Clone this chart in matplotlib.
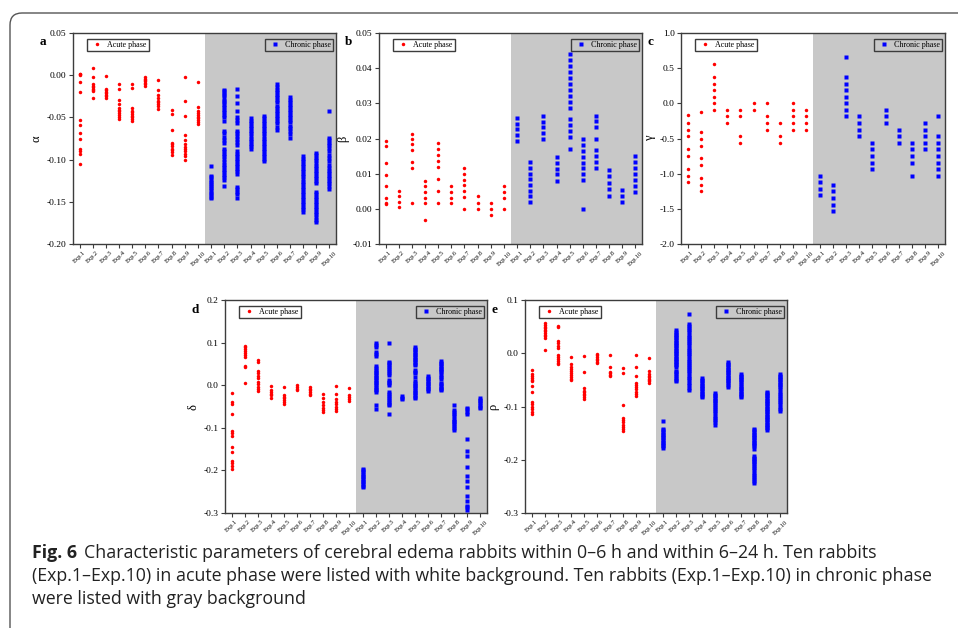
import matplotlib
matplotlib.use("Agg")
import matplotlib.pyplot as plt
from matplotlib.patches import FancyBboxPatch
from matplotlib.transforms import Affine2D
from matplotlib.ticker import MultipleLocator, FormatStrFormatter

plt.rcParams["axes.unicode_minus"] = False
plt.rcParams["font.family"] = "Liberation Serif"

W, H = 958, 628

exp_labels = ["Exp.1", "Exp.2", "Exp.3", "Exp.4", "Exp.5",
              "Exp.6", "Exp.7", "Exp.8", "Exp.9", "Exp.10"]

# ---- alpha ----
alpha_acute = [
    [0.002, 0.001, 0.000, -0.008, -0.020, -0.053, -0.059, -0.069, -0.076, -0.088, -0.090, -0.093, -0.105],
    [0.009, -0.002, -0.011, -0.013, -0.014, -0.016, -0.017, -0.019, -0.027],
    [-0.001, -0.016, -0.018, -0.020, -0.021, -0.023, -0.025, -0.027],
    [-0.010, -0.016, -0.029, -0.034, -0.039, -0.041, -0.043, -0.045, -0.047, -0.049, -0.052],
    [-0.010, -0.015, -0.039, -0.042, -0.044, -0.046, -0.048, -0.050, -0.052, -0.054],
    [-0.002, -0.004, -0.006, -0.007, -0.009, -0.011, -0.013],
    [-0.006, -0.017, -0.024, -0.027, -0.030, -0.032, -0.034, -0.037, -0.040],
    [-0.041, -0.046, -0.065, -0.080, -0.082, -0.084, -0.087, -0.089, -0.091, -0.094],
    [-0.002, -0.031, -0.048, -0.071, -0.077, -0.082, -0.085, -0.087, -0.090, -0.093, -0.096, -0.100],
    [-0.008, -0.038, -0.043, -0.045, -0.047, -0.049, -0.051, -0.053, -0.055, -0.058],
]
alpha_chronic = [
    [-0.108, -0.119, -0.121, -0.124, -0.126, -0.129, -0.131, -0.134, -0.136, -0.139, -0.141, -0.144, -0.146],
    [-0.017, -0.019, -0.022, -0.024, -0.027, -0.030, -0.032, -0.035, -0.038, -0.041, -0.044, -0.047, -0.050,
     -0.054, -0.066, -0.069, -0.073, -0.077, -0.080, -0.087, -0.090, -0.093, -0.096, -0.099, -0.103, -0.106,
     -0.109, -0.112, -0.115, -0.118, -0.121, -0.124, -0.131],
    [-0.016, -0.025, -0.033, -0.043, -0.050, -0.053, -0.057, -0.066, -0.069, -0.072, -0.076, -0.079, -0.083,
     -0.090, -0.093, -0.096, -0.099, -0.102, -0.105, -0.108, -0.111, -0.114, -0.117, -0.132, -0.135, -0.138,
     -0.141, -0.145],
    [-0.051, -0.054, -0.057, -0.060, -0.063, -0.066, -0.069, -0.072, -0.075, -0.078, -0.081, -0.084, -0.087],
    [-0.048, -0.051, -0.054, -0.057, -0.060, -0.063, -0.066, -0.069, -0.072, -0.075, -0.078, -0.081, -0.084,
     -0.087, -0.090, -0.093, -0.096, -0.099, -0.102],
    [-0.011, -0.014, -0.017, -0.020, -0.023, -0.026, -0.029, -0.032, -0.036, -0.039, -0.042, -0.045, -0.048,
     -0.051, -0.054, -0.057, -0.061, -0.065],
    [-0.026, -0.029, -0.032, -0.035, -0.038, -0.041, -0.044, -0.047, -0.050, -0.053, -0.056, -0.060, -0.063,
     -0.066, -0.070, -0.074],
    [-0.096, -0.099, -0.102, -0.105, -0.108, -0.111, -0.114, -0.117, -0.120, -0.123, -0.126, -0.129, -0.132,
     -0.135, -0.138, -0.141, -0.144, -0.147, -0.150, -0.153, -0.156, -0.159, -0.162],
    [-0.092, -0.095, -0.098, -0.101, -0.104, -0.107, -0.110, -0.113, -0.116, -0.119, -0.122, -0.125, -0.128,
     -0.138, -0.141, -0.144, -0.147, -0.150, -0.153, -0.156, -0.159, -0.162, -0.165, -0.168, -0.171, -0.174],
    [-0.043, -0.074, -0.077, -0.080, -0.083, -0.086, -0.090, -0.094, -0.098, -0.102, -0.106, -0.110, -0.113,
     -0.116, -0.119, -0.122, -0.125, -0.128, -0.131, -0.135],
]

# ---- beta ----
beta_acute = [
    [0.0193, 0.0178, 0.0129, 0.0097, 0.0065, 0.0032, 0.0017, 0.0013],
    [0.0052, 0.0037, 0.0020, 0.0004],
    [0.0214, 0.0199, 0.0183, 0.0166, 0.0133, 0.0116, 0.0017],
    [0.0080, 0.0065, 0.0048, 0.0032, 0.0017, -0.0032],
    [0.0187, 0.0170, 0.0152, 0.0135, 0.0118, 0.0085, 0.0051, 0.0017],
    [0.0065, 0.0048, 0.0032, 0.0017],
    [0.0116, 0.0099, 0.0083, 0.0067, 0.0050, 0.0033, 0.0000],
    [0.0037, 0.0018, 0.0000],
    [0.0018, 0.0000, -0.0017],
    [0.0065, 0.0049, 0.0032, 0.0000],
]
beta_chronic = [
    [0.0259, 0.0242, 0.0227, 0.0210, 0.0194],
    [0.0134, 0.0117, 0.0100, 0.0084, 0.0068, 0.0052, 0.0037, 0.0020],
    [0.0264, 0.0248, 0.0232, 0.0215, 0.0199],
    [0.0147, 0.0130, 0.0114, 0.0098, 0.0080],
    [0.0441, 0.0424, 0.0407, 0.0390, 0.0373, 0.0356, 0.0339, 0.0322, 0.0305, 0.0288, 0.0255, 0.0238, 0.0221,
     0.0204, 0.0170],
    [0.0198, 0.0181, 0.0165, 0.0148, 0.0131, 0.0115, 0.0098, 0.0081, 0.0000],
    [0.0265, 0.0249, 0.0232, 0.0199, 0.0166, 0.0150, 0.0133, 0.0116],
    [0.0110, 0.0092, 0.0073, 0.0055, 0.0037],
    [0.0054, 0.0037, 0.0019],
    [0.0149, 0.0132, 0.0115, 0.0098, 0.0082, 0.0066, 0.0049],
]

# ---- gamma ----
gamma_acute = [
    [-0.17, -0.28, -0.375, -0.47, -0.655, -0.75, -0.935, -1.03, -1.125],
    [-0.13, -0.41, -0.50, -0.60, -0.78, -0.88, -1.065, -1.16, -1.25],
    [0.565, 0.375, 0.28, 0.19, 0.095, 0.0, -0.09],
    [-0.09, -0.185, -0.28],
    [-0.09, -0.185, -0.465, -0.56],
    [0.0, -0.09],
    [0.0, -0.185, -0.28, -0.375],
    [-0.28, -0.465, -0.56],
    [0.0, -0.09, -0.185, -0.28, -0.375],
    [-0.09, -0.185, -0.28, -0.375],
]
gamma_chronic = [
    [-1.03, -1.125, -1.215, -1.31],
    [-1.16, -1.25, -1.345, -1.44, -1.53],
    [0.66, 0.375, 0.28, 0.19, 0.095, 0.0, -0.09, -0.185],
    [-0.185, -0.28, -0.375, -0.47],
    [-0.56, -0.655, -0.75, -0.845, -0.935],
    [-0.09, -0.185, -0.28],
    [-0.375, -0.47, -0.56],
    [-0.56, -0.655, -0.75, -0.845, -1.03],
    [-0.28, -0.375, -0.47, -0.56, -0.655],
    [-0.185, -0.47, -0.56, -0.655, -0.75, -0.845, -0.935, -1.03],
]

# ---- delta ----
delta_acute = [
    [-0.019, -0.039, -0.043, -0.067, -0.108, -0.113, -0.120, -0.145, -0.157, -0.177, -0.182, -0.189, -0.197],
    [0.093, 0.089, 0.084, 0.080, 0.076, 0.071, 0.067, 0.045, 0.042, 0.006],
    [0.059, 0.055, 0.033, 0.028, 0.022, 0.017, 0.008, 0.002, -0.004, -0.009, -0.014],
    [-0.002, -0.012, -0.016, -0.020, -0.024, -0.029],
    [-0.004, -0.024, -0.028, -0.031, -0.035, -0.039, -0.043],
    [0.000, -0.004, -0.008, -0.012],
    [-0.004, -0.008, -0.012, -0.016, -0.020, -0.022],
    [-0.020, -0.031, -0.039, -0.047, -0.053, -0.059, -0.064],
    [-0.002, -0.020, -0.033, -0.039, -0.045, -0.050, -0.055, -0.061],
    [-0.006, -0.024, -0.028, -0.033, -0.037],
]
delta_chronic = [
    [-0.197, -0.200, -0.204, -0.208, -0.212, -0.216, -0.220, -0.224, -0.228, -0.232, -0.236, -0.240],
    [0.098, 0.094, 0.090, 0.079, 0.074, 0.069, 0.044, 0.040, 0.036, 0.032, 0.028, 0.024, 0.020, 0.016, 0.012,
     0.008, 0.004, 0.000, -0.004, -0.008, -0.012, -0.016, -0.046, -0.055],
    [0.098, 0.055, 0.051, 0.047, 0.043, 0.038, 0.033, 0.028, 0.024, 0.012, 0.008, 0.004, 0.000, -0.017, -0.021,
     -0.025, -0.031, -0.035, -0.039, -0.043, -0.046, -0.067],
    [-0.025, -0.029, -0.033],
    [0.090, 0.086, 0.082, 0.078, 0.074, 0.070, 0.066, 0.062, 0.058, 0.054, 0.050, 0.047, 0.035, 0.031, 0.028,
     0.020, 0.009, 0.005, 0.001, -0.003, -0.007, -0.011, -0.015, -0.019, -0.023, -0.027, -0.030],
    [0.022, 0.018, 0.014, 0.010, 0.006, 0.002, -0.002, -0.006, -0.010, -0.014],
    [0.057, 0.053, 0.049, 0.045, 0.041, 0.037, 0.033, 0.030, 0.025, 0.020, 0.014, 0.006, 0.002, -0.002, -0.006,
     -0.010, -0.012],
    [-0.047, -0.059, -0.063, -0.067, -0.072, -0.079, -0.083, -0.087, -0.091, -0.096, -0.100, -0.104],
    [-0.053, -0.057, -0.062, -0.067, -0.127, -0.155, -0.167, -0.193, -0.212, -0.226, -0.240, -0.259, -0.271,
     -0.283, -0.287, -0.292],
    [-0.030, -0.034, -0.038, -0.042, -0.046, -0.050, -0.053],
]

# ---- rho ----
rho_acute = [
    [-0.031, -0.039, -0.043, -0.046, -0.050, -0.053, -0.062, -0.072, -0.092, -0.096, -0.100, -0.105, -0.110, -0.115],
    [0.056, 0.053, 0.050, 0.047, 0.044, 0.041, 0.038, 0.035, 0.032, 0.029, 0.007],
    [0.052, 0.049, 0.023, 0.019, 0.014, 0.009, -0.003, -0.007, -0.011, -0.015, -0.018, -0.021],
    [-0.007, -0.021, -0.025, -0.029, -0.033, -0.037, -0.041, -0.045, -0.048, -0.051],
    [-0.006, -0.035, -0.066, -0.070, -0.073, -0.076, -0.079, -0.082, -0.086],
    [-0.001, -0.004, -0.007, -0.010, -0.013, -0.016, -0.018],
    [-0.003, -0.025, -0.035, -0.038, -0.041, -0.043],
    [-0.028, -0.037, -0.098, -0.122, -0.126, -0.130, -0.134, -0.138, -0.142, -0.146],
    [-0.003, -0.026, -0.043, -0.056, -0.060, -0.064, -0.068, -0.072, -0.076, -0.081],
    [-0.009, -0.033, -0.039, -0.042, -0.045, -0.048, -0.051, -0.053, -0.056],
]
rho_chronic = [
    [-0.127, -0.142, -0.145, -0.148, -0.151, -0.154, -0.157, -0.160, -0.163, -0.166, -0.169, -0.172, -0.175, -0.177],
    [0.043, 0.040, 0.037, 0.034, 0.031, 0.028, 0.025, 0.022, 0.019, 0.016, 0.013, 0.010, 0.007, 0.004, 0.001,
     -0.002, -0.005, -0.008, -0.011, -0.014, -0.017, -0.020, -0.023, -0.026, -0.033, -0.036, -0.039, -0.042,
     -0.046, -0.050, -0.053],
    [0.073, 0.054, 0.051, 0.047, 0.043, 0.039, 0.035, 0.031, 0.027, 0.023, 0.019, 0.015, 0.010, 0.006, 0.002,
     -0.002, -0.006, -0.010, -0.014, -0.018, -0.022, -0.026, -0.030, -0.034, -0.038, -0.042, -0.046, -0.050,
     -0.055, -0.060, -0.065, -0.069],
    [-0.047, -0.050, -0.053, -0.056, -0.059, -0.062, -0.065, -0.068, -0.071, -0.074, -0.077, -0.080, -0.083],
    [-0.075, -0.078, -0.081, -0.084, -0.087, -0.090, -0.093, -0.097, -0.101, -0.105, -0.109, -0.113, -0.117,
     -0.121, -0.125, -0.129, -0.134],
    [-0.017, -0.020, -0.023, -0.026, -0.029, -0.032, -0.035, -0.038, -0.041, -0.044, -0.047, -0.050, -0.053,
     -0.056, -0.060, -0.064],
    [-0.039, -0.042, -0.045, -0.048, -0.051, -0.054, -0.058, -0.062, -0.065, -0.068, -0.071, -0.074, -0.077,
     -0.080, -0.083],
    [-0.142, -0.145, -0.148, -0.151, -0.154, -0.157, -0.160, -0.163, -0.166, -0.169, -0.172, -0.175, -0.179,
     -0.193, -0.196, -0.199, -0.202, -0.205, -0.208, -0.212, -0.216, -0.220, -0.224, -0.228, -0.232, -0.236,
     -0.240, -0.243],
    [-0.072, -0.075, -0.078, -0.081, -0.084, -0.087, -0.090, -0.093, -0.096, -0.099, -0.102, -0.105, -0.108,
     -0.111, -0.114, -0.117, -0.120, -0.123, -0.126, -0.129, -0.132, -0.135, -0.138, -0.141, -0.144],
    [-0.039, -0.042, -0.045, -0.048, -0.051, -0.054, -0.057, -0.060, -0.064, -0.068, -0.072, -0.076, -0.080,
     -0.084, -0.088, -0.092, -0.096, -0.100, -0.104, -0.108],
]

GRAY = "#c8c8c8"
EDGE = "#3c3c3c"


def px_rect(x0, y0, x1, y1):
    # pixel box (top-left origin) -> figure fraction rect
    return [x0 / W, 1 - y1 / H, (x1 - x0) / W, (y1 - y0) / H]


def draw_panel(fig, box, letter, sym, acute, chronic, ylim, step, fmt):
    ax = fig.add_axes(px_rect(*box))
    ax.axvspan(10.5, 20.5, color=GRAY, lw=0, zorder=0)

    for i, vals in enumerate(acute):
        ln = ax.plot([i + 1] * len(vals), vals, "o", color="#ff0000", ms=2.5, mec="none", zorder=3)[0]
        if i == 0:
            acute_ln = ln
    for i, vals in enumerate(chronic):
        ln = ax.plot([i + 11] * len(vals), vals, "s", color="#0000ff", ms=2.3, mec="none", zorder=3)[0]
        if i == 0:
            chronic_ln = ln

    ax.set_xlim(0.5, 20.5)
    ax.set_ylim(*ylim)
    ax.yaxis.set_major_locator(MultipleLocator(step))
    ax.yaxis.set_major_formatter(FormatStrFormatter(fmt))
    ax.set_xticks(range(1, 21))
    ax.set_xticklabels(exp_labels + exp_labels, rotation=45, ha="center", fontsize=4.6)
    ax.tick_params(axis="both", direction="out", length=3, width=0.8, color=EDGE, pad=1.5)
    ax.tick_params(axis="y", labelsize=6.8, pad=1.5)
    for sp in ax.spines.values():
        sp.set_color(EDGE)
        sp.set_linewidth(1.0)

    ax.set_ylabel(sym, fontsize=9, labelpad=3)
    ax.text(-0.115, 0.955, letter, transform=ax.transAxes, fontsize=9.5,
            fontweight="bold", ha="center", va="center")

    leg_kw = dict(numpoints=1, fontsize=5.8, frameon=True, fancybox=False, borderpad=0.25,
                  handlelength=2.0, handletextpad=0.3, borderaxespad=0, framealpha=1)
    leg1 = ax.legend([acute_ln], ["Acute phase"], loc="upper left",
                     bbox_to_anchor=(0.052, 0.972), edgecolor=EDGE, facecolor="white", **leg_kw)
    leg1.get_frame().set_linewidth(1.0)
    ax.add_artist(leg1)
    leg2 = ax.legend([chronic_ln], ["Chronic phase"], loc="upper right",
                     bbox_to_anchor=(0.99, 0.972), edgecolor=EDGE, facecolor=GRAY, **leg_kw)
    leg2.get_frame().set_linewidth(1.0)
    return ax


fig = plt.figure(figsize=(W / 100, H / 100), dpi=100)

draw_panel(fig, (73, 33, 336, 244), "a", "α", alpha_acute, alpha_chronic, (-0.20, 0.05), 0.05, "%.2f")
draw_panel(fig, (379, 33, 642, 244), "b", "β", beta_acute, beta_chronic, (-0.01, 0.05), 0.01, "%.2f")
draw_panel(fig, (681, 33, 945, 244), "c", "γ", gamma_acute, gamma_chronic, (-2.0, 1.0), 0.5, "%.1f")
draw_panel(fig, (225, 300, 487, 513), "d", "δ", delta_acute, delta_chronic, (-0.3, 0.2), 0.1, "%.1f")
draw_panel(fig, (525, 300, 787, 513), "e", "ρ", rho_acute, rho_chronic, (-0.3, 0.1), 0.1, "%.1f")

# rounded frame around the figure, in pixel units
px = Affine2D().scale(1 / W, 1 / H) + fig.transFigure
frame = FancyBboxPatch((10, -40), 1000, H - 13 + 40, boxstyle="round,pad=0,rounding_size=12",
                       transform=px, fill=False, ec="#555555", lw=1.0)
fig.add_artist(frame)

# caption
cap_font = "Open Sans"
cap_size = 12.8
lines = [
    "Characteristic parameters of cerebral edema rabbits within 0–6 h and within 6–24 h. Ten rabbits",
    "(Exp.1–Exp.10) in acute phase were listed with white background. Ten rabbits (Exp.1–Exp.10) in chronic phase",
    "were listed with gray background",
]
base_y = [H - 558, H - 581, H - 604]
fig_lbl = fig.text(32 / W, base_y[0] / H, "Fig. 6", family=cap_font, fontsize=cap_size,
                   fontweight="bold", color="#222222", va="baseline")
renderer = fig.canvas.get_renderer()
lbl_end = fig_lbl.get_window_extent(renderer).x1
fig.text((lbl_end + 7) / W, base_y[0] / H, lines[0], family=cap_font, fontsize=cap_size,
         color="#222222", va="baseline")
fig.text(32 / W, base_y[1] / H, lines[1], family=cap_font, fontsize=cap_size, color="#222222", va="baseline")
fig.text(32 / W, base_y[2] / H, lines[2], family=cap_font, fontsize=cap_size, color="#222222", va="baseline")

fig.savefig("out.png", dpi=100)
